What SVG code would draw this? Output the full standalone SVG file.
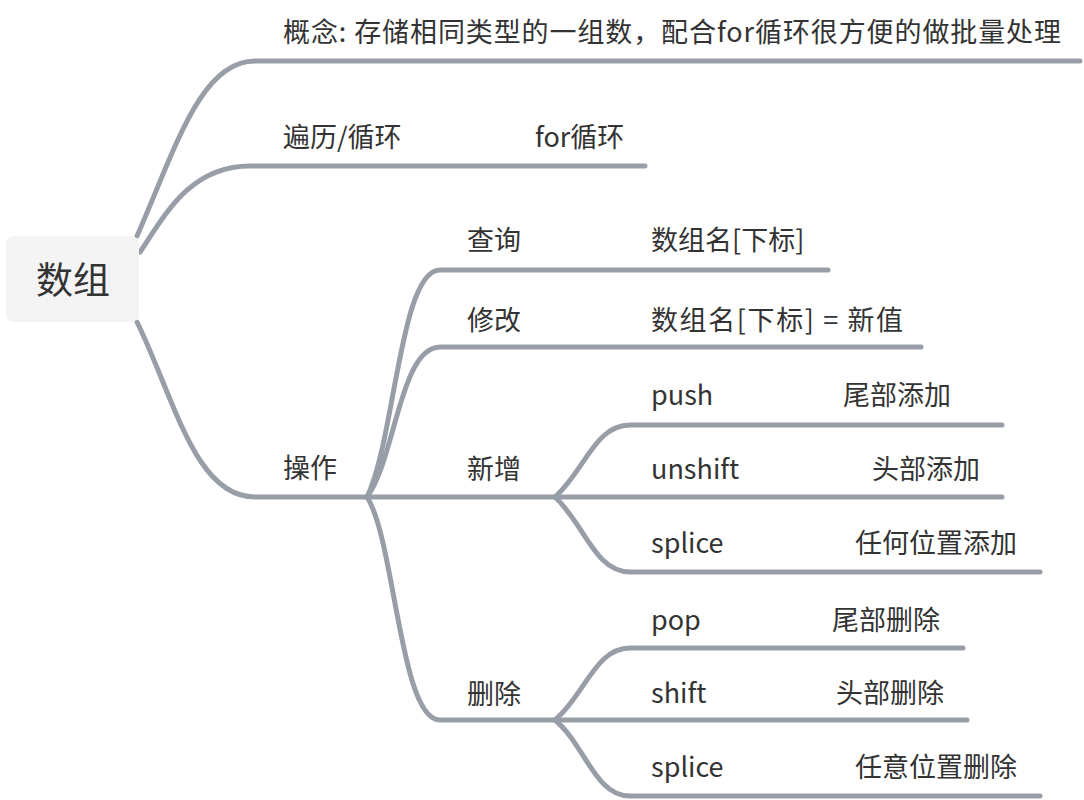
<svg xmlns="http://www.w3.org/2000/svg" width="1084" height="800" viewBox="0 0 1084 800">
<style>
.c{fill:none;stroke:#979ea7;stroke-width:5;stroke-linecap:round;stroke-linejoin:round}
text{font-family:"Noto Sans CJK SC","Noto Sans",sans-serif;fill:#333;font-size:27px}
.r{font-size:37px}
</style>
<rect width="1084" height="800" fill="#fff"/>
<g id="connectors">
<path class="c" d="M137,236 C175,150 200,61 255,61 L1080,61"/>
<path class="c" d="M140,252 C165,215 190,166 250,166 L645,166"/>
<path class="c" d="M137,322 C175,400 195,497 255,497 L367,497"/>
<path class="c" d="M367,497 C395,440 400,270 440,270 L828,270"/>
<path class="c" d="M367,497 C395,460 400,347 440,347 L921,347"/>
<path class="c" d="M367,497 L555,497"/>
<path class="c" d="M367,497 C395,540 400,720 440,720 L555,720"/>
<path class="c" d="M555,497 C585,470 595,425 630,425 L1002,425"/>
<path class="c" d="M555,497 L1002,497"/>
<path class="c" d="M555,497 C585,525 595,572 630,572 L1040,572"/>
<path class="c" d="M555,720 C585,695 595,648 630,648 L963,648"/>
<path class="c" d="M555,720 L967,720"/>
<path class="c" d="M555,720 C585,745 595,796 630,796 L1040,796"/>
</g>
<g id="root"><rect x="6" y="236" width="133" height="86" rx="8" fill="#f4f4f4"/><text class="r" x="73" y="294" text-anchor="middle">数组</text></g>
<g id="concept"><text x="283" y="42" textLength="778" lengthAdjust="spacing">概念: 存储相同类型的一组数，配合for循环很方便的做批量处理</text></g>
<g id="loop"><text x="283" y="147">遍历/循环</text><text x="535" y="147">for循环</text></g>
<g id="op"><text x="283" y="478">操作</text></g>
<g id="query"><text x="467" y="250">查询</text><text x="651" y="250">数组名[下标]</text></g>
<g id="modify"><text x="467" y="330">修改</text><text x="651" y="330" textLength="252" lengthAdjust="spacing">数组名[下标] = 新值</text></g>
<g id="add"><text x="467" y="479">新增</text></g>
<g id="push"><text x="651" y="405">push</text><text x="843" y="405">尾部添加</text></g>
<g id="unshift"><text x="651" y="479">unshift</text><text x="872" y="479">头部添加</text></g>
<g id="splice1"><text x="651" y="553">splice</text><text x="855" y="553">任何位置添加</text></g>
<g id="del"><text x="467" y="704">删除</text></g>
<g id="pop"><text x="651" y="630">pop</text><text x="832" y="630">尾部删除</text></g>
<g id="shift"><text x="651" y="703">shift</text><text x="836" y="703">头部删除</text></g>
<g id="splice2"><text x="651" y="777">splice</text><text x="855" y="777">任意位置删除</text></g>
</svg>
